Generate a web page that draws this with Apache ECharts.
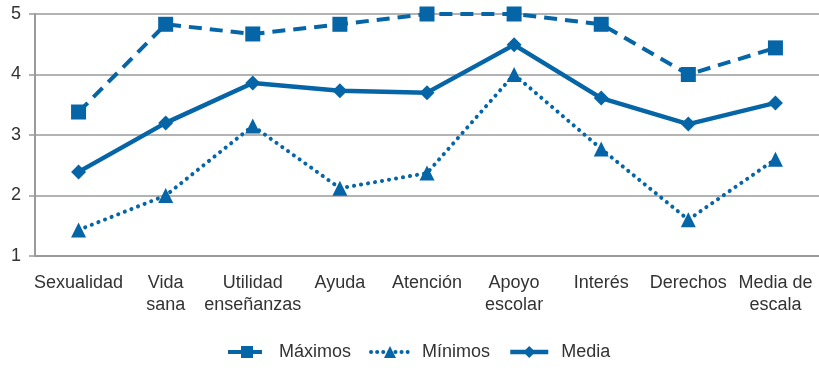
<!DOCTYPE html>
<html>
<head>
<meta charset="utf-8">
<script src="https://cdn.jsdelivr.net/npm/echarts@6/dist/echarts.min.js"></script>
<style>
  html, body { margin: 0; padding: 0; background: #fff; }
  #chart { width: 819px; height: 368px; }
</style>
</head>
<body>
<div id="chart"></div>
<script>
// Categorías del eje horizontal
const categories = ['Sexualidad', 'Vida\nsana', 'Utilidad\nenseñanzas', 'Ayuda', 'Atención', 'Apoyo\nescolar', 'Interés', 'Derechos', 'Media de\nescala'];

// Valores por serie
const maximos = [3.38, 4.83, 4.67, 4.83, 5.0, 5.0, 4.83, 4.0, 4.44];
const minimos = [1.43, 2.0, 3.15, 2.12, 2.37, 4.0, 2.77, 1.6, 2.6];
const media   = [2.39, 3.2, 3.86, 3.73, 3.7, 4.49, 3.61, 3.18, 3.53];

// Marcas del eje vertical
const yTicks = [1, 2, 3, 4, 5];

const blue = '#0565a6';
const textColor = '#333333';
const font = '"Liberation Sans", Arial, Helvetica, sans-serif';

const dashPattern = [13, 8];
const dotPattern = [0.1, 7];

const chart = echarts.init(document.getElementById('chart'));
chart.setOption({
  animation: false,
  textStyle: { fontFamily: font },
  grid: { left: 35, right: 0, top: 14, bottom: 112, containLabel: false },
  legend: {
    bottom: 2,
    left: 221,
    itemWidth: 38,
    itemHeight: 15,
    itemGap: 18,
    textStyle: { fontSize: 18, color: textColor, fontFamily: font, padding: [0, 0, 0, 8] },
    data: [
      { name: 'Máximos', lineStyle: { width: 4, type: dashPattern } },
      { name: 'Mínimos', lineStyle: { width: 4, type: [0.1, 6], cap: 'round' } },
      { name: 'Media', lineStyle: { width: 4.5 } }
    ]
  },
  xAxis: {
    type: 'category',
    data: categories,
    boundaryGap: true,
    axisLine: { lineStyle: { color: '#9a9a9a', width: 2 } },
    axisTick: { alignWithLabel: true, length: 6, lineStyle: { color: '#9a9a9a', width: 1.5 } },
    axisLabel: { color: textColor, fontSize: 18, lineHeight: 22, margin: 16, interval: 0, fontFamily: font }
  },
  yAxis: {
    type: 'value',
    min: yTicks[0],
    max: yTicks[yTicks.length - 1],
    interval: 1,
    axisLine: { show: true, lineStyle: { color: '#9a9a9a', width: 2 } },
    axisTick: { show: true, length: 6, lineStyle: { color: '#9a9a9a', width: 1.5 } },
    axisLabel: { color: textColor, fontSize: 18, margin: 14, fontFamily: font },
    splitLine: { show: true, lineStyle: { color: '#9a9a9a', width: 1.5 } }
  },
  series: [
    {
      name: 'Máximos',
      type: 'line',
      data: maximos,
      symbol: 'rect',
      symbolSize: 15,
      itemStyle: { color: blue },
      lineStyle: { color: blue, width: 4, type: dashPattern },
      z: 3
    },
    {
      name: 'Mínimos',
      type: 'line',
      data: minimos,
      symbol: 'triangle',
      symbolSize: 15,
      itemStyle: { color: blue },
      lineStyle: { color: blue, width: 4, type: dotPattern, cap: 'round' },
      z: 3
    },
    {
      name: 'Media',
      type: 'line',
      data: media,
      symbol: 'diamond',
      symbolSize: 15,
      itemStyle: { color: blue },
      lineStyle: { color: blue, width: 4.5 },
      z: 4
    }
  ]
});
</script>
</body>
</html>
